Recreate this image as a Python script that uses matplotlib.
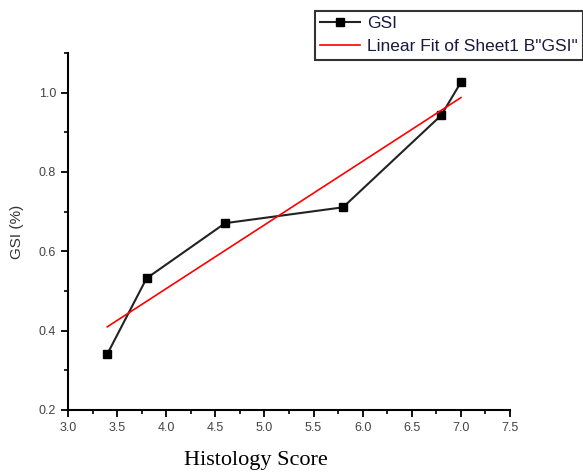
import matplotlib
matplotlib.use("Agg")
import matplotlib.pyplot as plt
import numpy as np
from matplotlib.ticker import MultipleLocator

# data
score = [3.4, 3.8, 4.6, 5.8, 6.8, 7.0]
gsi = [0.341, 0.532, 0.671, 0.711, 0.943, 1.026]

# linear fit of the data
k, b = np.polyfit(score, gsi, 1)
fit_x = np.array([score[0], score[-1]])
fit_y = k * fit_x + b

W, H = 583, 472
fig = plt.figure(figsize=(W / 100, H / 100), dpi=100)
ax = fig.add_axes([68 / W, 1 - 410 / H, 442 / W, 357 / H])

ax.plot(score, gsi, color='#222222', lw=1.5, marker='s', markersize=6,
        markerfacecolor='black', markeredgecolor='black', label='GSI')
ax.plot(fit_x, fit_y, color='red', lw=1.2, label='Linear Fit of Sheet1 B"GSI"')

ax.set_xlim(3.0, 7.5)
ax.set_ylim(0.2, 1.1)
ax.set_xticks(np.arange(3.0, 7.51, 0.5))
ax.set_yticks([0.2, 0.4, 0.6, 0.8, 1.0])
ax.xaxis.set_minor_locator(MultipleLocator(0.25))
ax.yaxis.set_minor_locator(MultipleLocator(0.1))
ax.spines['top'].set_visible(False)
ax.spines['right'].set_visible(False)
for s in ('left', 'bottom'):
    ax.spines[s].set_linewidth(1.5)
ax.tick_params(which='major', direction='out', length=5, width=1.3,
               labelsize=9, labelcolor='#444444')
ax.tick_params(which='minor', direction='out', length=3, width=1.2)
for lab in ax.get_xticklabels() + ax.get_yticklabels():
    lab.set_family('Liberation Sans')

ax.set_xlabel('Histology Score', family='Liberation Serif', fontsize=16)
ax.xaxis.set_label_coords(0.425, -0.115)
ax.set_ylabel('GSI (%)', family='Liberation Sans', fontsize=11, color='#333333')
ax.yaxis.set_label_coords(-0.1, 0.5)

leg = fig.legend(loc='upper left', bbox_to_anchor=(315 / W, 1 - 11 / H),
                 prop={'family': 'Liberation Sans', 'size': 12.5},
                 frameon=True, fancybox=False, handlelength=2.3,
                 handletextpad=0.4, borderpad=0.3, labelspacing=0.45,
                 borderaxespad=0)
leg.get_frame().set_edgecolor('black')
leg.get_frame().set_linewidth(1.5)
for t in leg.get_texts():
    t.set_color('#1a1a40')

fig.savefig('out.png', dpi=100)
